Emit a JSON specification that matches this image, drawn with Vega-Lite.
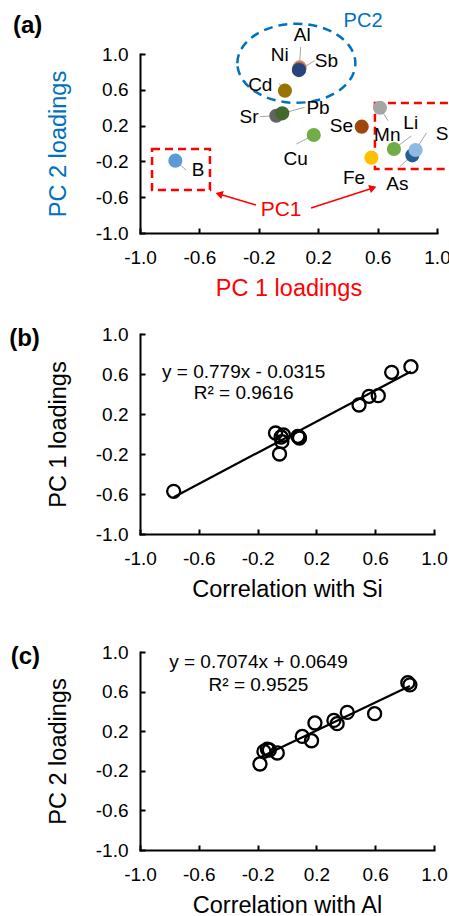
{
  "$schema": "https://vega.github.io/schema/vega-lite/v6.json",
  "padding": {"left": 9, "top": 10, "right": 0, "bottom": 0},
  "config": {
    "view": {"stroke": null},
    "axis": {
      "domainColor": "black", "domainWidth": 2, "domainCap": "square",
      "tickColor": "black", "tickWidth": 2, "tickSize": -5,
      "grid": false, "labelFont": "Liberation Sans", "labelFontSize": 19, "labelColor": "black",
      "titleFont": "Liberation Sans", "titleFontSize": 23.5, "titleFontWeight": "normal", "titleColor": "black",
      "format": ".1f", "labelExpr": "replace(datum.label, '\u2212', '-')", "labelFlush": false, "labelOverlap": false
    },
    "axisX": {"labelPadding": 20, "titlePadding": 9},
    "axisY": {"labelPadding": 17, "titlePadding": 25},
    "text": {"font": "Liberation Sans"}
  },
  "vconcat": [
    {
      "width": 297, "height": 179,
      "encoding": {
        "x": {"field": "x", "type": "quantitative", "scale": {"domain": [-1, 1], "nice": false, "zero": false},
              "axis": {"title": "PC 1 loadings", "titleColor": "#FF0000", "values": [-1, -0.6, -0.2, 0.2, 0.6, 1]}},
        "y": {"field": "y", "type": "quantitative", "scale": {"domain": [-1, 1], "nice": false, "zero": false},
              "axis": {"title": "PC 2 loadings", "titleColor": "#0070C0", "values": [-1, -0.6, -0.2, 0.2, 0.6, 1]}}
      },
      "layer": [
        {
          "data": {"values": [
            {"x": -0.762, "y": -0.192, "x2": -0.69, "y2": -0.296},
            {"x": 0.072, "y": 0.83, "x2": 0.082, "y2": 1.078},
            {"x": 0.07, "y": 0.82, "x2": 0.176, "y2": 0.925},
            {"x": -0.024, "y": 0.59, "x2": -0.064, "y2": 0.673},
            {"x": -0.082, "y": 0.31, "x2": -0.194, "y2": 0.30},
            {"x": -0.042, "y": 0.337, "x2": 0.109, "y2": 0.404},
            {"x": 0.17, "y": 0.095, "x2": 0.053, "y2": -0.006},
            {"x": 0.616, "y": 0.40, "x2": 0.67, "y2": 0.255},
            {"x": 0.71, "y": -0.061, "x2": 0.827, "y2": 0.084},
            {"x": 0.856, "y": -0.073, "x2": 0.93, "y2": 0.12},
            {"x": 0.834, "y": -0.132, "x2": 0.749, "y2": -0.259}
          ]},
          "mark": {"type": "rule", "color": "#A6A6A6", "strokeWidth": 1},
          "encoding": {"x2": {"field": "x2"}, "y2": {"field": "y2"}}
        },
        {
          "data": {"values": [
            {"x": -0.919, "x2": -0.529, "y": -0.061, "y2": -0.52},
            {"x": 0.582, "x2": 1.12, "y": 0.452, "y2": -0.285}
          ]},
          "mark": {"type": "rect", "fill": "transparent", "stroke": "#FF0000", "strokeWidth": 2.5, "strokeDash": [8, 5]},
          "encoding": {"x2": {"field": "x2"}, "y2": {"field": "y2"}}
        },
        {
          "data": {"values": [{"x": 0.053, "y": 0.896}]},
          "mark": {"type": "point", "shape": "M-1,0C-1,-0.37,-0.552,-0.67,0,-0.67C0.552,-0.67,1,-0.37,1,0C1,0.37,0.552,0.67,0,0.67C-0.552,0.67,-1,0.37,-1,0Z",
                   "size": 13924, "filled": false, "stroke": "#0070C0", "strokeWidth": 2.5, "strokeDash": [9, 6], "opacity": 1}
        },
        {
          "data": {"values": [
            {"el": "B", "x": -0.762, "y": -0.192},
            {"el": "Cu", "x": 0.170, "y": 0.095},
            {"el": "Se", "x": 0.493, "y": 0.188},
            {"el": "Mn", "x": 0.616, "y": 0.400},
            {"el": "Fe", "x": 0.558, "y": -0.158},
            {"el": "Sr", "x": -0.082, "y": 0.31},
            {"el": "Pb", "x": -0.042, "y": 0.337},
            {"el": "Cd", "x": -0.024, "y": 0.59},
            {"el": "Ni", "x": 0.075, "y": 0.85},
            {"el": "Al", "x": 0.072, "y": 0.83},
            {"el": "Sb", "x": 0.070, "y": 0.82},
            {"el": "Li", "x": 0.710, "y": -0.061},
            {"el": "As", "x": 0.834, "y": -0.132},
            {"el": "S", "x": 0.856, "y": -0.073}
          ]},
          "mark": {"type": "circle", "size": 200, "opacity": 1},
          "encoding": {"color": {"field": "el", "type": "nominal", "legend": null,
            "scale": {"domain": ["B", "Cu", "Se", "Mn", "Fe", "Sr", "Pb", "Cd", "Ni", "Al", "Sb", "Li", "As", "S"],
                      "range": ["#5B9BD5", "#70AD47", "#9E480E", "#A5A5A5", "#FFC000", "#636363", "#43682B", "#997300", "#ED7D31", "#4472C4", "#264478", "#70AD47", "#255E91", "#8DB9E2"]}}}
        },
        {
          "data": {"values": [
            {"t": "B", "x": -0.609, "y": -0.296},
            {"t": "Al", "x": 0.093, "y": 1.212},
            {"t": "Ni", "x": -0.059, "y": 0.989},
            {"t": "Sb", "x": 0.255, "y": 0.922},
            {"t": "Cd", "x": -0.19, "y": 0.654},
            {"t": "Sr", "x": -0.266, "y": 0.293},
            {"t": "Pb", "x": 0.199, "y": 0.393},
            {"t": "Cu", "x": 0.048, "y": -0.177},
            {"t": "Se", "x": 0.356, "y": 0.196},
            {"t": "Mn", "x": 0.665, "y": 0.095},
            {"t": "Li", "x": 0.823, "y": 0.232},
            {"t": "S", "x": 1.035, "y": 0.103},
            {"t": "As", "x": 0.733, "y": -0.456},
            {"t": "Fe", "x": 0.441, "y": -0.389}
          ]},
          "mark": {"type": "text", "fontSize": 19, "color": "black", "align": "center", "baseline": "middle"},
          "encoding": {"text": {"field": "t"}}
        },
        {
          "data": {"values": [
            {"x": -0.219, "y": -0.687, "x2": -0.468, "y2": -0.564},
            {"x": 0.152, "y": -0.721, "x2": 0.569, "y2": -0.497}
          ]},
          "mark": {"type": "rule", "color": "#FF0000", "strokeWidth": 1.5},
          "encoding": {"x2": {"field": "x2"}, "y2": {"field": "y2"}}
        },
        {
          "data": {"values": [{"x": -0.468, "y": -0.564}]},
          "mark": {"type": "point", "shape": "triangle-right", "filled": true, "color": "#FF0000", "size": 70, "angle": 196.6, "opacity": 1}
        },
        {
          "data": {"values": [{"x": 0.569, "y": -0.497}]},
          "mark": {"type": "point", "shape": "triangle-right", "filled": true, "color": "#FF0000", "size": 70, "angle": 342, "opacity": 1}
        },
        {
          "data": {"values": [{"t": "PC1", "x": -0.05, "y": -0.743}]},
          "mark": {"type": "text", "fontSize": 21, "color": "#FF0000", "align": "center", "baseline": "middle"},
          "encoding": {"text": {"field": "t"}}
        },
        {
          "data": {"values": [{"t": "PC2", "x": 0.502, "y": 1.369}]},
          "mark": {"type": "text", "fontSize": 20, "color": "#0070C0", "align": "center", "baseline": "middle"},
          "encoding": {"text": {"field": "t"}}
        },
        {
          "data": {"values": [{"t": "(a)", "x": -1.855, "y": 1.31}]},
          "mark": {"type": "text", "fontSize": 24, "fontWeight": "bold", "color": "black", "align": "left", "baseline": "middle"},
          "encoding": {"text": {"field": "t"}}
        }
      ]
    },
    {
      "spacing": 42,
      "vconcat": [
        {
          "width": 294, "height": 200,
          "encoding": {
            "x": {"field": "x", "type": "quantitative", "scale": {"domain": [-1, 1], "nice": false, "zero": false},
                  "axis": {"title": "Correlation with Si", "values": [-1, -0.6, -0.2, 0.2, 0.6, 1]}},
            "y": {"field": "y", "type": "quantitative", "scale": {"domain": [-1, 1], "nice": false, "zero": false},
                  "axis": {"title": "PC 1 loadings", "values": [-1, -0.6, -0.2, 0.2, 0.6, 1]}}
          },
          "layer": [
            {
              "data": {"values": [{"x": -0.771, "y": -0.632}, {"x": 0.843, "y": 0.625}]},
              "mark": {"type": "line", "color": "black", "strokeWidth": 2.2}
            },
            {
              "data": {"values": [
                {"x": -0.771, "y": -0.573}, {"x": -0.078, "y": 0.01}, {"x": -0.024, "y": -0.01},
                {"x": -0.035, "y": -0.077}, {"x": -0.051, "y": -0.2}, {"x": -0.04, "y": -0.03},
                {"x": 0.074, "y": -0.023}, {"x": 0.08, "y": -0.03}, {"x": 0.085, "y": -0.04},
                {"x": 0.49, "y": 0.29}, {"x": 0.558, "y": 0.377}, {"x": 0.621, "y": 0.383},
                {"x": 0.712, "y": 0.617}, {"x": 0.843, "y": 0.673}
              ]},
              "mark": {"type": "point", "shape": "circle", "filled": false, "color": "black", "strokeWidth": 2.3, "size": 170, "opacity": 1}
            },
            {
              "data": {"values": [{"t": "y = 0.779x - 0.0315", "x": -0.295, "y": 0.617}, {"t": "R² = 0.9616", "x": -0.295, "y": 0.41}]},
              "mark": {"type": "text", "fontSize": 19, "color": "black", "align": "center", "baseline": "middle"},
              "encoding": {"text": {"field": "t"}}
            },
            {
              "data": {"values": [{"t": "(b)", "x": -1.89, "y": 0.955}]},
              "mark": {"type": "text", "fontSize": 24, "fontWeight": "bold", "color": "black", "align": "left", "baseline": "middle"},
              "encoding": {"text": {"field": "t"}}
            }
          ]
        },
        {
          "width": 294, "height": 198,
          "encoding": {
            "x": {"field": "x", "type": "quantitative", "scale": {"domain": [-1, 1], "nice": false, "zero": false},
                  "axis": {"title": "Correlation with Al", "values": [-1, -0.6, -0.2, 0.2, 0.6, 1]}},
            "y": {"field": "y", "type": "quantitative", "scale": {"domain": [-1, 1], "nice": false, "zero": false},
                  "axis": {"title": "PC 2 loadings", "values": [-1, -0.6, -0.2, 0.2, 0.6, 1]}}
          },
          "layer": [
            {
              "data": {"values": [{"x": -0.184, "y": -0.065}, {"x": 0.836, "y": 0.656}]},
              "mark": {"type": "line", "color": "black", "strokeWidth": 2.2}
            },
            {
              "data": {"values": [
                {"x": -0.184, "y": -0.131}, {"x": -0.157, "y": -0.004}, {"x": -0.134, "y": 0.019},
                {"x": -0.12, "y": 0.01}, {"x": -0.066, "y": -0.02}, {"x": 0.104, "y": 0.147},
                {"x": 0.167, "y": 0.104}, {"x": 0.19, "y": 0.283}, {"x": 0.319, "y": 0.309},
                {"x": 0.341, "y": 0.276}, {"x": 0.41, "y": 0.39}, {"x": 0.596, "y": 0.377},
                {"x": 0.822, "y": 0.69}, {"x": 0.836, "y": 0.668}
              ]},
              "mark": {"type": "point", "shape": "circle", "filled": false, "color": "black", "strokeWidth": 2.3, "size": 170, "opacity": 1}
            },
            {
              "data": {"values": [{"t": "y = 0.7074x + 0.0649", "x": -0.194, "y": 0.899}, {"t": "R² = 0.9525", "x": -0.194, "y": 0.67}]},
              "mark": {"type": "text", "fontSize": 19, "color": "black", "align": "center", "baseline": "middle"},
              "encoding": {"text": {"field": "t"}}
            },
            {
              "data": {"values": [{"t": "(c)", "x": -1.88, "y": 0.945}]},
              "mark": {"type": "text", "fontSize": 24, "fontWeight": "bold", "color": "black", "align": "left", "baseline": "middle"},
              "encoding": {"text": {"field": "t"}}
            }
          ]
        }
      ]
    }
  ],
  "spacing": 25
}
